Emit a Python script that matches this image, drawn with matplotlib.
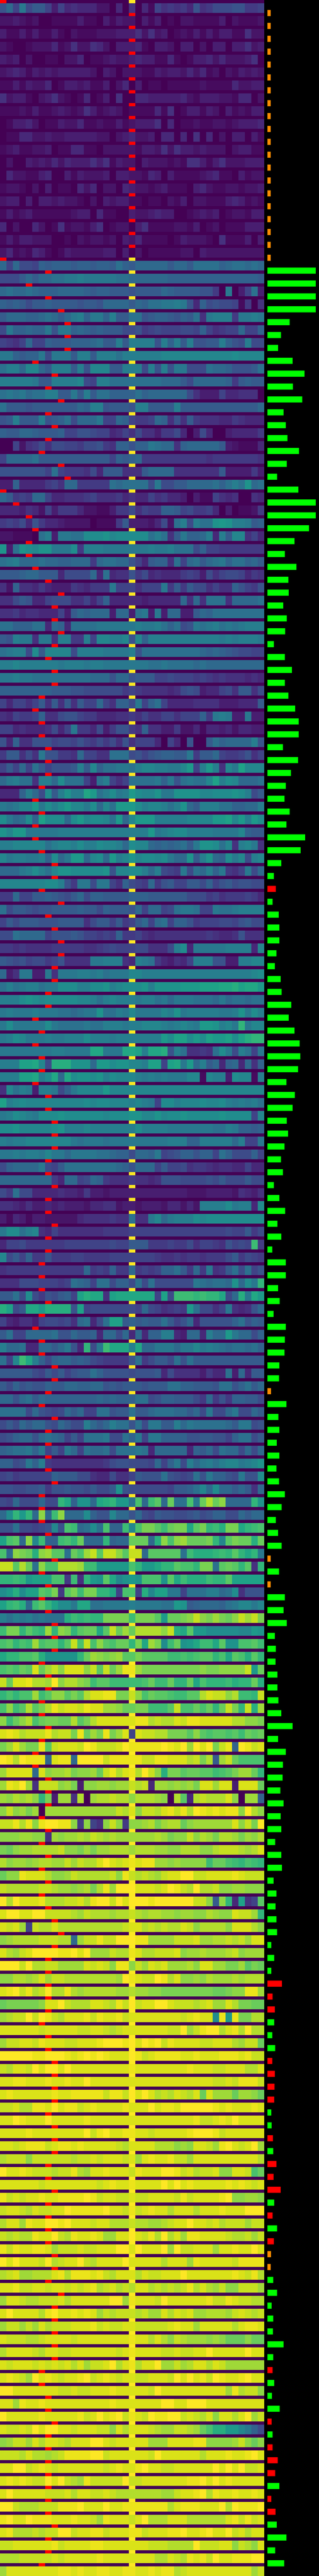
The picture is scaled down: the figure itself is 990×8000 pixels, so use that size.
"""Peak position heatmap: a marker strip and a value strip per row, with bars on the right."""

import matplotlib
matplotlib.use("Agg")

import numpy as np
import matplotlib.pyplot as plt

# one row per text line, columns 0-9, 10-19, 20, 21-30, 31-40
# every character is a base 36 level, 0 = bottom of the colormap, z = top
HEAT_ROWS = """
9c7e8aa737 4544422040 5 0417565649 5688899667
2232120011 1131103132 2 0313010221 1113021112
3113131131 0211122233 3 5252301213 1313311522
2100122241 2522542033 3 4103320330 2033033523
3230200110 2240112322 3 4331141013 3424222350
2343132323 3333203202 2 2113233242 4120213232
1131322401 3323113024 0 3011011111 2111142233
5233102352 1014013050 0 4433333421 3332214402
1112131123 2125312320 1 1114150133 1320312133
0133420113 2241121131 2 3335040112 1122123334
0114422322 3333322023 4 2230440405 0402033031
1231122301 1441102222 2 1332525332 3222023311
0200323242 4333535132 2 0322212155 3135222333
0422113400 3132223033 2 2143031111 2341103122
1221020301 1042402204 3 2212311103 4211221223
2330303323 2210203233 1 1011021302 2111343121
1312311111 1233041100 3 2234330012 3230122133
4020042015 1221350122 0 3511112213 0120111333
1313322200 1021221203 2 4111101322 2105111303
2412143101 3222223303 0 2011111220 3222222222
c7c887babb babbabbadb a cccccaccad dddbcddcdc
888acaccdd eefeeeeedd c cccccbbbbb bbbbbbbbba
cdccdcbbbc cccbabbaaa 9 aaaacbaaaa 9960e037d3
baba8aabaa aa9aa9cccc a cbddeefe94 b898871605
acccbbcdca cefbeebfaa d d9abba9bad 5efff6eefe
8ebbcbbe9e ebcbabaaa8 8 9678777887 b75677c77b
7657c77baa abbbcdaafa f fff9fbfaf9 9aafb98f88
eebabbe8ee eaffafffdf f ffffgggggg ggggghgggg
dffcggcaff faf9gggaaf f f8f9f9ee88 8dccb999ad
fffffeaaff ffg87ffddd d ddddccca8c ccccb6abaa
dedecddffa aeafaddbbb b dbcccccc85 3337445550
daaa9aaaaa aacbff9aaa 9 ffaaaafaaa aaaaaaaaac
9afaaaf9ab d8ccce77cb 7 667cb595a6 5554465444
baaccbaaab 7799877457 5 8553668403 8400344446
0072568588 77688965bb 9 bbedcc5bcc ccca321114
7ccccdaaaa aaaaaaa7ba b c666666666 6566666665
99999997d7 666584aaa5 5 5acccc5555 555a333363
33b4444675 cc66666dcd d dd8e88aacc ccdbdfdicd
ca676cc744 5556755564 5 4475644303 1175450054
4443542736 6642211366 8 5766bba786 6740301126
6768496443 222201116a 3 332482df8f ddijiffeab
221110df3e eddhhhighh h hhdfd5aebb cf4fagg574
i3dihgiiee eh6fffeeee e eefeefddd8 b776666666
defcccdccb bccc6cddcc 9 74abb5d7cd acdebddbca
aaabccaaa4 8888c4d455 9 6845444676 3857887465
52b5546433 3654666e77 7 5777e6a6a8 85755b9769
558a944788 855747b444 4 4344444c5c 5ddd5ccccd
5564554447 3acbccc3cc 3 de3e3cc33a cbdddddddd
ddbbbdd4cb 4ddddeeeee e feefdbd89e defdedefff
a9fee5ee5f f66f7ggffg 9 gbffffffff fffefefffe
deff8haggg g8ffffeeee f 9ddddddddd cbcba98877
ffgffffffe fffeffeeee e eeddeddddc dccccccccc
eefeeddddd ddddccc9cc 9 aaa7787776 7656555454
bbbbbbbbaa a998888886 7 6555545898 344785aa58
747757a5a5 a5a77c75bb 8 e7bd744445 555333444a
547667b558 9976644455 6 5755775777 b6efe33e33
7745444584 7e66483699 6 5b55336224 1443424433
94b5599978 8797686859 5 7774074090 0adbccccf9
6aa585e996 65c7755ddd 8 979abbaae6 aac7667957
7a7c7da799 9afagbddee d fggffeegj7 fjf5gekggg
cefdd5ffch ddd73df757 d dddebe9ded dgkfhgcccd
444bfc8haf iffljdfhef j hggieeiiii gghhhihf8a
edeggjehfh jggehcgdjj j hfggfdfica fffddbbccf
hecdhbkhhh chjghhgdjc g jjjfffffgg ggjjkgjfjh
igjjeeeeef ffffffffff f ffjefghhff ffeeeegbaa
ffgggggdfg gfhffhggfc h ggcbcbcdae iihdg5fge5
geffeefbhc ejjcghcjfg i ghhgheccia ficbheg8fg
cccefhfdgi ihhhhhi9gg h hfcf876e8d cfbe657e8c
ggggggghhf 96ee8ee75b 8 76c69a77aa 8b79a89988
66c77aaba9 8ac8bbaaaa b bbaaaaaa88 8675666764
d8aa9899aa aabaa8baaa 9 c7cc78deed 77eddeffff
7a8aaa999a aaa58aa7a6 7 ac7cd7bb96 7778879a88
88dcccc799 9a977676b6 6 7545555555 5654459555
6656555566 6665567877 7 885558fh4e eeeeffff4g
a989788679 5555eefff5 4 fed643547f ff9933ffgg
c35ee33e5e eeffefdeee g gfffffffff ffffffffgh
dfdeffdeeh hhffhhifgh h hifiiiijjj kkkllmkllj
fffhihghhh hhggfdfgff f effdeceeed ddcecddcdd
efeeefeeed dcdeeiddfe g eeeegfieff fffeefiehf
eheeeeehed dddeddfffe f fgggfefgfe jjifgenegg
efhgeeefee fffhfffeff f ffffjhkkhj hkjjkhkmnn
eeeeeeeeff eeeelleeel l kfllm9fd55 65dhe8fd7e
fffkklg8mm miiicjjhii g gfkk7klejc fac4bc4c5b
fffkklfhlc lhiihifhgg g fefefeeegg 1gff3hgg1f
5gdfe3ffe8 beggggjggg g gggggggggg gggggggggg
kfghgggggg ggghghhggg f gfe7hhfggg hgghfefefd
efhgfehhhi hhhhhhghhh i iggighhihh hhhihhhh7g
hhiggggghi fffgffffff f hffffeeeee eeddfebbab
feffgggggg gedeeedeee e eeeeefffbb fffffcf77e
eefeffegee ceeeeddcbb 8 ccbe789bb9 bb7db888b7
8bcccce87a ddddddddcb 9 ccc7a77856 6545544744
cccccccc64 cc78cb6555 6 5545999888 898a888a88
86d8844445 4436332333 3 3333333322 2333325435
5543533434 3332445523 3 2333244242 ffffheff4h
3143133222 2245555655 d 55egcefffh ghhhhhhhhh
ehhdfg5475 5555556666 7 7777777777 7777877a68
4778666666 7777777877 a aa66676685 77659787o6
g8a7b66966 6776666777 7 7776556566 56668a6876
5666666666 666c676b66 c 6767bbda6c 6e56ad8d79
5558887776 7dcb7dd8bb 8 d8d888888e dcddcichen
aad8h8698a b7kmll5kll l lll7k8ooon onnl8cmelj
mk8alljmmm m9k7888888 8 7c875676jd 8857e5459c
7435537887 85cd48dkka b abaada79c4 99999bd9ba
ad77ccccd9 9caab4cc8c 4 c4bbff43cc 4fccjecc8b
fccd44ccac e94n8eolll f lcceeeceeg efedcddcdb
d7golfb8bc caba876666 9 d68aa8d9da aaaaaaaaaa
aaaaa87a8a 79aadb9999 8 999a485555 3644d3c4aa
a8b9a99baa ccbbcc9a9a a a9aaaddbba aa9dd9bdac
cc9cdacbbb bbbbbcbcbb b dd89bbaaa8 6c696bbaa8
dddd8c9878 cac77dd9aa d aacdddccac 8e88ce88ca
8a8cacc98c a88fcacfdd 9 d8eeaafced ddddcaee89
89bcc9cdcb 7a7ddde88d b e7eebbbb99 aa997bdd8a
bcddebe7a7 ec7dccd8dd d ed4ccccc4b ac8dcc8c8c
bb89ebf655 5555556899 8 887c7be8fc efdfggefgi
78677777ba aa88544855 7 a999d9878d 9ebb98e99h
998899a699 a998a88ai9 8 888887aabd gchccaca5c
87c888c88n lbiiclmnjj d pcoqcrddpe rvrtccccni
chnjnctcot ccchb99gcc 9 c87a99889a 89bb88cacc
99d88789g9 pocdhdpbbo g pssqorsslq snomsslnop
kpqctgobbo pnrcccnbcc r rrcmtpturr rsngqsrrmr
pctsrmtuqq drpuwqwwtq w wcqqqqqdom mmnonqnlne
wwqvrdtppv vvuoojjjjj p njjlnnqppn ssdqrqnq5n
nnonjkkkpp 6o5njiqlgi j ipppiqlomm monnqkkkkk
hjmhkkqps6 qsossnnl7p p 7mgkkee7dd dffcdh5999
knomcoqnkh hellddeeee f eeeeddjiab cccbdeggeg
fdfefdeddd mononnssss o sssqjrrstw tsusrtwuws
ossnqonunt snqrrlqwru r vvvvtwmlqj jhhhhhggji
pqnpoupqqn qwpwptqprr n slushorijl oolqiippqo
lnnppqmiii iinrutstuq q sqqqqoopop qqnplqpmqn
pqprqxruwt xxxtwqwruy y usssssssss tssttttwjr
wrxxyvvuzt vvtsoqqooo o oproornnrl pnnnomnnrm
npnppuoqtt qsqvxxyyss w tprqqpooqq vxwwtvoonw
ptoqvqsvyw xxwyxxuutr r ssoooqwppr prnrwsnwmu
tortvprssr rvqsvxxxxx x yyvwvvxwyy xxxxxvvtts
xyxvwwwyvw wsyrusysux 7 xwwvvsssqt qpqqpqorqr
suxussyqwx xxwzywwwxz y yyyyzyxzuz xzswybzywx
zyvzyyycxy yczzzzwyyy y ywwyyxxxvw svauwrpppp
uxxxxcxtuu vstturwyvx y vzwtmssqrr qqopqsuurn
uyxzu5wwwt us3ttuutuu w vw4uututus xxuxx3xxxr
utvuvtns3u u5v0uvvwvv t vvvut0vq4v wvvvxt0uub
twtusu0uuu uuuuuuuuwv x twwvxywyvz yxyxyytzvt
wwyvytyzzy yt6t75twt6 t tuvsuvvrtu uuuuuxtwsz
tttuutt5ut uuvuwvuvuu u uuuvusttwt vusvvusutv
srtuuvvvvw ttsusuuvvv u vvvuuttvvv ttvwwwvuvx
vtuutuvvuu wuwvvxzxwx y xyyuututtt torrponpon
rttyxxxvtt uwvvvvvwty w vwvuwxxzzw wxxxxyxwww
wvvvvvwwvu utuvsvyuzz z xxxwxzywvz vvwttuuttt
zvzxxxyvvv wwxvyzzwzx z zzyzzzzzzw wtatn4k57q
xzzxxzzwww wvuwvvvuvv w vuvvuutuut tvuttxwwun
xwxu7wvvxv vvvvvvvvvw x xvwvwvvxwt vvvvtxxxvt
tuvvvvwwwv vcuwwywwzz z yyuuuuwwwx uuvvwvwuxx
xvuwxzzzzy yzxzuuuwvv y xvvwwwxtuu vuuuvwtuuu
zzzwzvvwwu uuuxwxwtyy t wuxwxuuuvt xxuussuqsr
ttvvuvxuww vvvvvvvvuz y xwwzyvxttu tvuuuvuvvv
xyzwyvwzvv yvuvvvvvuu v uuttssssss ssrrsttyyu
rssssstxxz wvvvxxwvyw z wxxzzxwwwv wxuuxvssrr
uvwwzwzywv xxxywyxxyw x xxxxxxxwxy xxhyjyssvv
xxxxxxwxxx xxwwxxwvwx x xxxxxwwzuw yzzvxyvzvv
uwwxxwyxxx wwxxxyzzzy z xzyzwyxxxx wwxxxvuwwr
zzzzzyyzzz yxyzyzyxxx z ywxyyyyxxy xxxyyyxyww
wvxxwzxzzx zxxxxxxxxx y xxxxxxxxyx xxwwxxxvvx
xxyyxxxyxx yxxzxxxxxx x xxxxxxxxxx xxwwxwyyyw
xyxxxxxxyx xyyyyywyyw z xzxvwvxwvx rxuuuruutr
wwxvvyyxzx yywxyxxxxy x xxzxyyxzzz zzyxyxxxyx
xxzyxxxzxx xxxyxxxxxx x xxxxxxxxxy wwxyxzxxxx
xxxxyxxxxx xxxzwyzxxy y xxwxxxxxyz zzywxxxxxx
xxwxyyywxy yxyxxxxxwv x xxxvvvtutx xwuyzxwxzu
vwwwtwwwww wvwwxwxxxw x uxyxxywwux xxxxxxxxxv
zxxyxwwwvw wyvuxxyxxx w yxxxzzywxv wwxttxxwpr
xxxxxxwxxx xxxxxwxyxx y xxxxzxzxyx xxxxyxyxwx
ywxwxxyxxy yyyzywxxww x wwxxxxwywx xxxyzttuut
wxxwvxwwxx zyyyyyzxxw y wxyxxvxxxv xxxyxxxzzz
vxxuyxxzzy zxxxwxxvvv w vvuuvwxxzx xwxvwwwuww
wvwvvyxxzw vyxxyxuuxx z xwyvzvxuyy xxxxwvvwuw
ywyxxyyxuw wwxwwxxxzz x zxxxzuzwwx xxuxxyxxzx
zxzxxxwzvw xxzwvxxxxz x xxxxvxxxuy xxxxxwyyyy
vwxuuvvvxy vyyyxywvxx x vxwwxxxzxx xxxxxyxwyv
xxywwxxwxx wxwxyvwxvw v xxvwvwvwyv xvuwttwwwu
uxxwvvwwwx vxxxxxxzzu y xxxwzxxxxx xywwyxwwvv
xzxxxxvyzx xyxyxuwvww w vwuuxvxwxu uvvvuwxwvw
uwwuwuxvww wxxxywxwwx x wwwwwxyxxu xxxxxvxyyx
xwwwvvwxxx xwxxxxxxxx y xxvxvtwvuu ututrrrtrr
vxxxxwvxxw wxxxxxxxwx y xxxxwwxwwx xzxxxxxzxx
xwxxxwxwxw xvxuwwxzvx y vxxzuuwuvx xvxwuuuuuu
xyxwuzxyxw xxyzwxyxwx x wwxxxwzxzx ywzyxxyzxx
zzxxxxxxxw wxwwxxxyxx x xxwzxxxxxx xxxxuyvwwt
xxuyxxyxxx xxxxxxxyxx x xxxxzzxxzz zxxxxxxxxx
zxxxxxyxxx xxywxzxyzw y xwzyyzzwxw vxtxxvxzuw
xwwxwzxzzx xwxxxwwtxv x xxwvuuwwvu rpmmjjgeb8
tuwwuxvxxw vxxxzzxwxx x xxuuuxxxxy yttttuwtrt
wwwvxvvuvw yyyyzzwxxx x xxwzxxxxxx vxxxyxxyzx
xxzzwxyxwx xxxxxxwxyx x yzxxwwxxxx xxzxzxzwwx
xyxyxwwzxz wvuywwwwwz w wxxxxxxxyy zxzxyxxxxx
xzxxxxxwww xvxxwwxwvv v vvvvuuwxxy zvyxxyxxyx
zzwvvvwwwy yyzxxxzxxy y yyyyyvxyyy xxxzvzyyyz
yzxxzyyyxx xyxxwuyxxx w xzvvvxxxvv vvvvxywywx
xyvvvwvwwz zwxxyywxxx y ywxxxyyzxx yzxxzwxvxx
wwxxxxxxyw xxxxyyxxxx x xxwwwvvvvz wwwxxtwvtx
vvvwwwwwxw xxxxxyxxxx x xxxvvxwvyx ywzxxyyyzz
uxxxxxxxxy yxyxxyyxxy y xxyxyyvwxx xxxxxxxxuw
"""

# column of the red cell in the marker strip above each value row
PEAK_COLS = [
    0, 20, 20, 20, 20, 20, 20, 20, 20, 20, 20, 20, 20, 20, 20, 20, 20, 20, 20, 20,
    0, 7, 4,
    7, 9, 10, 10, 10, 5, 8, 7, 9, 7, 8, 7, 6, 9, 10, 0, 2, 4, 5, 4, 4, 5,
    7, 9, 8, 8, 9, 8, 7, 8, 8, 6, 5, 6, 6, 7, 7, 7, 6, 5, 6, 5, 5, 6, 8,
    8, 6, 9, 7, 8, 9, 9, 8, 8, 7, 7, 5, 6, 5, 6, 6, 5, 7, 7, 8, 8, 8,
    7, 7, 8, 7, 7, 8, 7, 7, 6, 6, 6, 7, 6,
    5, 6, 6, 8, 8, 7, 6, 8, 7, 7, 7, 7,
    8, 6, 6, 6, 7, 7, 8, 6, 7, 6, 7, 8, 8, 8, 6, 7, 7, 6, 6, 7, 6, 5, 5,
    7, 7, 7, 6, 7, 6, 7, 6, 7, 6, 7, 8, 9, 8, 7, 7, 7, 7, 7, 6,
    7, 7, 8, 8, 8, 8, 7, 8, 8, 8, 7, 7, 8, 7, 7, 7, 7, 8, 8, 7,
    9, 8, 8, 8, 8, 8, 6, 6, 7, 7, 8, 7, 7, 7, 7, 7, 7, 7, 8, 7, 7, 6,
]

BAR_WIDTHS = [
    10, 10, 10, 10, 10, 10, 10, 10, 10, 10, 10, 10, 10, 10, 10, 10, 10, 10, 10, 10,
    150, 150, 150, 150,
    69, 42, 33, 78, 115, 79, 108, 50, 57, 62, 98, 60, 30, 96, 150, 150, 129, 84, 54, 90, 65,
    66, 49, 60, 55, 20, 54, 76, 54, 65, 86, 97, 97, 48, 95, 73, 57, 53, 69, 59, 117, 103, 43,
    20, 26, 16, 35, 37, 37, 28, 23, 41, 44, 74, 66, 84, 100, 102, 95, 59, 85, 78, 60, 64, 53, 42,
    48, 20, 37, 55, 31, 43, 15, 57, 57, 33, 38, 19,
    57, 54, 53, 37, 36, 11, 59, 34, 37, 29, 37, 28, 36,
    54, 44, 26, 33, 44, 10, 36, 10, 54, 50, 60, 23, 26, 25, 31, 31, 34, 43, 78, 33, 57, 48,
    47, 40, 50, 41, 43, 24, 43, 45, 19, 28, 25, 28, 30, 12, 21, 12, 45, 16, 23, 21,
    15, 24, 15, 23, 22, 21, 12, 13, 17, 18, 28, 19, 41, 21, 16, 30, 20, 11, 10, 18,
    30, 13, 18, 17, 50, 18, 16, 21, 14, 38, 13, 16, 16, 32, 24, 37, 12, 25, 29, 59, 24, 52,
]
ORANGE_BARS = list(range(20)) + [107, 120, 122, 174, 175]
RED_BARS = [68, 153, 154, 155, 159, 160, 161, 162, 165, 167, 168, 169, 171, 173,
            183, 187, 189, 190, 191, 193, 194]

CENTER_COL = 20
WIDTH, HEIGHT = 990, 8000


def parse_rows(text):
    rows = [line.replace(" ", "") for line in text.strip().splitlines()]
    bad = [i for i, r in enumerate(rows) if len(r) != 41]
    if bad or len(rows) != 200:
        raise SystemExit(f"bad rows {bad} of {len(rows)}")
    return np.array([[int(c, 36) / 35 for c in r] for r in rows])


def heat_image(values):
    """Stack a marker strip (1 unit) and a value strip (3 units) for each row."""
    cmap = plt.get_cmap("viridis")
    strips = []
    for i, row in enumerate(values):
        marker = np.zeros(41)
        marker[CENTER_COL] = 1.0
        marker_rgb = cmap(marker)[:, :3]
        marker_rgb[PEAK_COLS[i]] = (1, 0, 0)
        strips.append(marker_rgb)
        strips.extend([cmap(row)[:, :3]] * 3)
    return np.array(strips)


def bar_colors():
    colors = []
    for k in range(len(BAR_WIDTHS)):
        if k in ORANGE_BARS:
            colors.append("#ff8c00")
        elif k in RED_BARS:
            colors.append("#ff0000")
        else:
            colors.append("#00ff00")
    return colors


if __name__ == "__main__":
    values = parse_rows(HEAT_ROWS)
    fig = plt.figure(figsize=(WIDTH / 100, HEIGHT / 100), dpi=100, facecolor="black")

    ax = fig.add_axes([0, 0, 820 / WIDTH, 1])
    ax.imshow(heat_image(values), aspect="auto", interpolation="nearest")
    ax.axis("off")

    # one y unit is one 40 px row, bars sit 31-50 px into their row
    bar_ax = fig.add_axes([830 / WIDTH, 0, 160 / WIDTH, 1], facecolor="black")
    bar_ax.barh(range(len(BAR_WIDTHS)), BAR_WIDTHS, height=19 / 40, left=0,
                color=bar_colors(), linewidth=0, antialiased=False)
    bar_ax.set_xlim(0, 160)
    bar_ax.set_ylim(HEIGHT / 40 - 40.5 / 40, -40.5 / 40)
    bar_ax.axis("off")

    fig.savefig("out.png", dpi=100, facecolor="black")
